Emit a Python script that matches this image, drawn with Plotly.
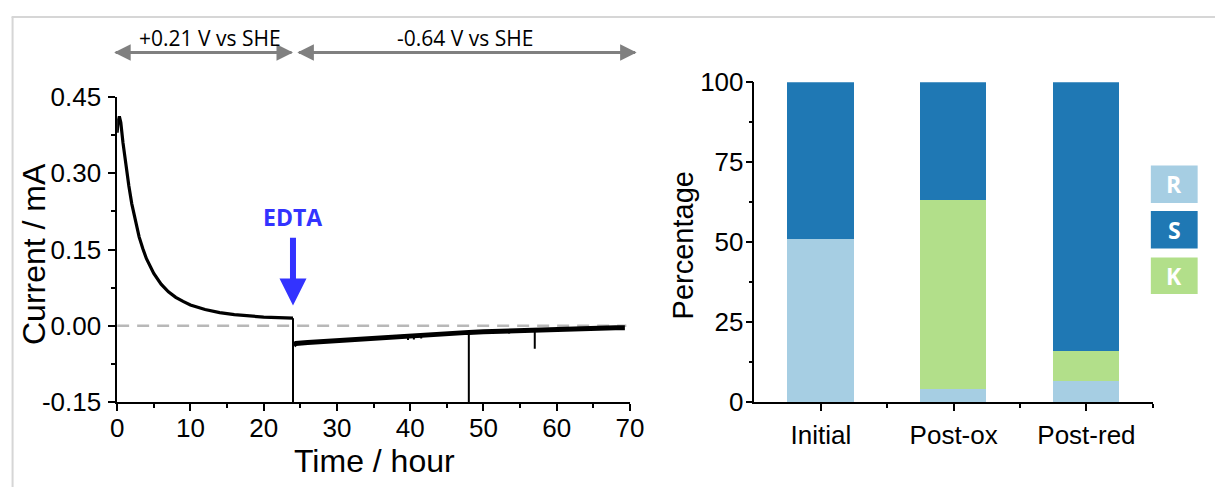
import plotly.graph_objects as go

# ---------------- data ----------------
# oxidative step (+0.21 V), decay of current
decay_t = [0, 0.1, 0.3, 0.5, 0.8, 1.2, 1.6, 2.0, 2.5, 3.0, 3.5, 4.0, 5.0, 6.0, 7.0, 8.0, 9.0, 10, 12, 14, 16, 18, 20, 22, 24.0]
decay_i = [0.38, 0.40, 0.412, 0.40, 0.36, 0.315, 0.275, 0.24, 0.205, 0.175, 0.152, 0.132, 0.103, 0.082, 0.067, 0.056,
           0.048, 0.041, 0.032, 0.026, 0.022, 0.019, 0.017, 0.016, 0.015]
# reductive step (-0.64 V) after EDTA
red_t = [24.1, 24.4, 26, 28, 30, 32, 34, 36, 38, 40, 42, 44, 46, 48, 50, 52, 54, 56, 58, 60, 62, 64, 66, 68, 69.3]
red_i = [-0.038, -0.035, -0.033, -0.031, -0.029, -0.027, -0.025, -0.024, -0.022, -0.021, -0.019, -0.017, -0.015,
         -0.013, -0.012, -0.011, -0.009, -0.008, -0.007, -0.006, -0.005, -0.005, -0.004, -0.004, -0.004]
# spikes (time, top, bottom)
spike_t = [24.0, 39.7, 40.5, 41.5, 48.0, 53.5, 57.0]
spike_top = [0.015, -0.020, -0.020, -0.019, -0.013, -0.010, -0.008]
spike_bot = [-0.15, -0.028, -0.027, -0.025, -0.15, -0.015, -0.045]

y_ticks = [-0.15, 0.0, 0.15, 0.30, 0.45]
y_ticktext = ["-0.15", "0.00", "0.15", "0.30", "0.45"]
x_ticks = [0, 10, 20, 30, 40, 50, 60, 70]

samples = ["Initial", "Post-ox", "Post-red"]
pct_R = [51, 4, 6.5]
pct_K = [0, 59, 9.5]
pct_S = [49, 37, 84]
pct_ticks = [0, 25, 50, 75, 100]

col_R = "#a6cee3"
col_S = "#1f78b4"
col_K = "#b2df8a"

W, H = 1229, 502
def sx_(t):
    return (t - 4.4) / 0.987
def sy_(t):
    return (t - 12) / 0.95
def px(x):
    return sx_(x) / W
def py(y):
    return (H - sy_(y)) / H

fig = go.Figure()

# zero line
fig.add_trace(go.Scatter(x=[0, 69.5], y=[0, 0], mode="lines",
                         line=dict(color="#b8b8b8", width=2.5, dash="12px,8px"), xaxis="x", yaxis="y",
                         showlegend=False, hoverinfo="skip"))
# spikes
sx, sy = [], []
for t, a, b in zip(spike_t, spike_top, spike_bot):
    sx += [t, t, None]
    sy += [a, b, None]
fig.add_trace(go.Scatter(x=sx, y=sy, mode="lines", line=dict(color="black", width=2),
                         xaxis="x", yaxis="y", showlegend=False, hoverinfo="skip"))
fig.add_trace(go.Scatter(x=decay_t, y=decay_i, mode="lines", line=dict(color="black", width=3.2),
                         xaxis="x", yaxis="y", showlegend=False, hoverinfo="skip"))
fig.add_trace(go.Scatter(x=red_t, y=red_i, mode="lines", line=dict(color="black", width=5),
                         xaxis="x", yaxis="y", showlegend=False, hoverinfo="skip"))

# right chart: stacked bars
xi = [0, 1, 2]
for vals, col, name in [(pct_R, col_R, "R"), (pct_K, col_K, "K"), (pct_S, col_S, "S")]:
    fig.add_trace(go.Bar(x=xi, y=vals, marker=dict(color=col, line=dict(width=0)), width=0.5,
                         name=name, xaxis="x2", yaxis="y2", showlegend=False))

font_main = "Liberation Sans, Arial, sans-serif"
tick_common = dict(showline=True, linecolor="black", linewidth=1.5, ticks="outside", ticklen=7,
                   tickwidth=1.5, tickcolor="black", showgrid=False, zeroline=False)
minor_common = dict(ticks="outside", ticklen=4, tickwidth=1.5, tickcolor="black")
fig.update_layout(
    width=W, height=H, margin=dict(l=0, r=0, t=0, b=0),
    paper_bgcolor="white", plot_bgcolor="white", barmode="stack", bargap=0,
    font=dict(family=font_main, color="black"),
    xaxis=dict(domain=[px(115), px(630)], range=[0, 70], tickvals=x_ticks,
               tickfont=dict(size=26, family=font_main), anchor="y", ticklabelstandoff=-5,
               minor=dict(tickvals=[5, 15, 25, 35, 45, 55, 65], **minor_common),
               **tick_common),
    yaxis=dict(domain=[py(403), py(95)], range=[-0.15, 0.45], tickvals=y_ticks, ticktext=y_ticktext,
               tickfont=dict(size=26, family=font_main), anchor="x", ticklabelstandoff=2,
               minor=dict(tickvals=[-0.075, 0.075, 0.225, 0.375], **minor_common),
               **tick_common),
    xaxis2=dict(domain=[px(755), px(1155)], range=[-0.5, 2.5], tickvals=xi, ticktext=samples,
                tickfont=dict(size=26, family=font_main), anchor="y2", ticklabelstandoff=2,
                minor=dict(tickvals=[0.5, 1.5, 2.5], **minor_common),
                **tick_common),
    yaxis2=dict(domain=[py(403), py(80)], range=[0, 100], tickvals=pct_ticks,
                tickfont=dict(size=26, family=font_main), anchor="x2", ticklabelstandoff=-3,
                minor=dict(tickvals=[12.5, 37.5, 62.5, 87.5], **minor_common),
                **tick_common),
)

shapes = []
annotations = []
# frame lines
shapes.append(dict(type="line", xref="paper", yref="paper", x0=px(9), x1=1, y0=py(14), y1=py(14),
                   line=dict(color="#d6d6d6", width=2)))
shapes.append(dict(type="line", xref="paper", yref="paper", x0=px(10), x1=px(10), y0=py(14), y1=0,
                   line=dict(color="#d6d6d6", width=2)))

# legend boxes
for (label, col, y0, y1) in [("R", col_R, 164, 202), ("S", col_S, 210, 248), ("K", col_K, 257, 294)]:
    shapes.append(dict(type="rect", xref="paper", yref="paper", x0=px(1153), x1=px(1200), y0=py(y1), y1=py(y0),
                       fillcolor=col, line=dict(width=0)))
    annotations.append(dict(text="<b>%s</b>" % label, xref="paper", yref="paper", x=px(1176.5), y=py((y0 + y1) / 2),
                            showarrow=False, font=dict(color="white", size=23, family="Open Sans, sans-serif"),
                            xanchor="center", yanchor="middle"))

# axis titles
annotations.append(dict(text="Current / mA", xref="paper", yref="paper", x=px(31), y=py(253), textangle=-90,
                        showarrow=False, font=dict(size=32, family=font_main), xanchor="center", yanchor="middle"))
annotations.append(dict(text="Time / hour", xref="paper", yref="paper", x=px(373), y=py(463),
                        showarrow=False, font=dict(size=32, family=font_main), xanchor="center", yanchor="middle"))
annotations.append(dict(text="Percentage", xref="paper", yref="paper", x=px(683), y=py(245), textangle=-90,
                        showarrow=False, font=dict(size=29, family=font_main), xanchor="center", yanchor="middle"))

# top double arrows
arrow_col = "#808080"
for (xa, xb) in [(-0.4, 24.0), (24.6, 70.9)]:
    for (h, t) in [(xa, xb), (xb, xa)]:
        annotations.append(dict(x=h, y=py(50), ax=t, ay=0, xref="x", yref="paper", axref="x", ayref="pixel",
                                showarrow=True, arrowhead=2, arrowsize=1.1, arrowwidth=3, arrowcolor=arrow_col,
                                text="", standoff=0, startstandoff=0))
annotations.append(dict(text="+0.21 V vs SHE", xref="paper", yref="paper", x=px(208), y=py(35),
                        showarrow=False, font=dict(size=21, family="Open Sans, sans-serif", color="black"),
                        xanchor="center", yanchor="middle"))
annotations.append(dict(text="-0.64 V vs SHE", xref="paper", yref="paper", x=px(464), y=py(35),
                        showarrow=False, font=dict(size=21, family="Open Sans, sans-serif", color="black"),
                        xanchor="center", yanchor="middle"))

# EDTA arrow
annotations.append(dict(x=24, y=0.04, ax=24, ay=0.176, xref="x", yref="y", axref="x", ayref="y",
                        showarrow=True, arrowhead=2, arrowsize=0.9, arrowwidth=6, arrowcolor="#3333ff",
                        text="", standoff=0))
annotations.append(dict(text="<b>EDTA</b>", x=24, y=0.214, xref="x", yref="y", showarrow=False,
                        font=dict(size=23, family="Open Sans, sans-serif", color="#3333ff"),
                        xanchor="center", yanchor="middle"))

fig.update_layout(shapes=shapes, annotations=annotations)
fig.write_html("out.html")
